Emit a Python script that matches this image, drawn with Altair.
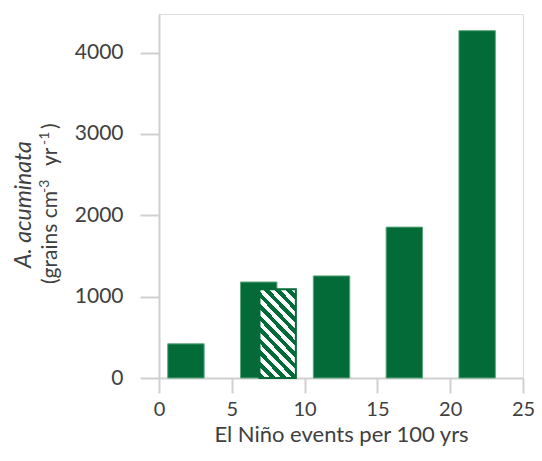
import altair as alt
import pandas as pd

# ---- data ----
x_left = [0.6, 5.6, 10.6, 15.6, 20.6]
x_right = [3.1, 8.1, 13.1, 18.1, 23.1]
grains = [420, 1180, 1255, 1855, 4270]

hatch_left = [6.9]
hatch_right = [9.4]
hatch_grains = [1090]

x_ticks = [0, 5, 10, 15, 20, 25]
y_ticks = [0, 1000, 2000, 3000, 4000]

title_line1 = "A. acuminata"
title_line2_parts = ["(grains cm", "-3", "yr", "-1", ")"]
x_title = "El Niño events per 100 yrs"

# ---- styles ----
GREEN = "#036b38"
EDGE = "#5aa67a"
FONT = "Lato"
TXT = "#404040"
AX = "#d0d0d0"
W, H = 364, 364
PAD_LEFT, PAD_TOP, PAD_RIGHT = 151, 6, 11
SVG_H = 439

solid = pd.DataFrame({"x0": x_left, "x1": x_right, "v": grains})
hatch = pd.DataFrame({"x0": hatch_left, "x1": hatch_right, "v": hatch_grains})

xs = alt.Scale(domain=[0, 25], nice=False, zero=False)
ys = alt.Scale(domain=[0, 4475], nice=False)

xaxis = alt.Axis(values=x_ticks, title=x_title, grid=False, tickSize=15,
                 labelPadding=6, titlePadding=5, domainColor=AX, tickColor=AX,
                 domainWidth=2, tickWidth=2, labelFont=FONT, titleFont=FONT,
                 labelFontSize=20, titleFontSize=22, labelColor=TXT, titleColor=TXT,
                 titleFontWeight="normal", format="d", labelFlush=False,
                 labelOverlap=False)
yaxis = alt.Axis(values=y_ticks, title=None, grid=False, tickSize=19,
                 labelPadding=17, domainColor=AX, tickColor=AX, domainWidth=2,
                 tickWidth=2, labelFont=FONT, labelFontSize=21, labelColor=TXT,
                 format="d", labelFlush=False)

bars = alt.Chart(solid).mark_bar(color=GREEN, stroke=EDGE, strokeWidth=1).encode(
    x=alt.X("x0:Q", scale=xs, axis=xaxis),
    x2="x1:Q",
    y=alt.Y("v:Q", scale=ys, axis=yaxis),
    y2=alt.datum(0),
)

# diagonal hatch (white / green stripes) via a hard-stop linear gradient
n = 11
stops = []
for i in range(n):
    a = i / n
    b = (i + 0.5) / n
    c = (i + 1) / n
    stops += [alt.GradientStop(offset=a, color=GREEN), alt.GradientStop(offset=b, color=GREEN),
              alt.GradientStop(offset=b, color="white"), alt.GradientStop(offset=c, color="white")]
grad = alt.LinearGradient(gradient="linear", x1=0, y1=1, x2=0.52, y2=-0.21, stops=stops)

hbar = alt.Chart(hatch).mark_bar(fill=grad, stroke=GREEN, strokeWidth=2).encode(
    x=alt.X("x0:Q", scale=xs),
    x2="x1:Q",
    y=alt.Y("v:Q", scale=ys),
    y2=alt.datum(0),
)

# rotated y-axis title (page coordinates converted to plot coordinates)
OX, OY = 8 + PAD_LEFT, 8 + PAD_TOP


def rtext(txt, px, py, size, italic=False):
    return alt.Chart(pd.DataFrame({"t": [txt]})).mark_text(
        angle=270, font=FONT, fontSize=size, color=TXT, align="left",
        baseline="alphabetic", fontStyle="italic" if italic else "normal"
    ).encode(text="t:N", x=alt.value(px - OX), y=alt.value(py - OY))


t_layers = [
    rtext(title_line1, 31, 268, 23, italic=True),
    rtext(title_line2_parts[0], 57, 284, 21),
    rtext(title_line2_parts[1], 49, 193, 14),
    rtext(title_line2_parts[2], 57, 166, 21),
    rtext(title_line2_parts[3], 49, 145, 14),
    rtext(title_line2_parts[4], 57, 129, 21),
]

chart = alt.layer(bars, hbar, *t_layers).properties(
    width=W, height=H,
    autosize=alt.AutoSizeParams(type="none"),
    padding={"left": PAD_LEFT, "top": PAD_TOP, "right": PAD_RIGHT,
             "bottom": SVG_H - PAD_TOP - H},
).configure_view(stroke=None).configure(background="white")

chart.save("out.html", embed_options={"renderer": "svg", "actions": False})
